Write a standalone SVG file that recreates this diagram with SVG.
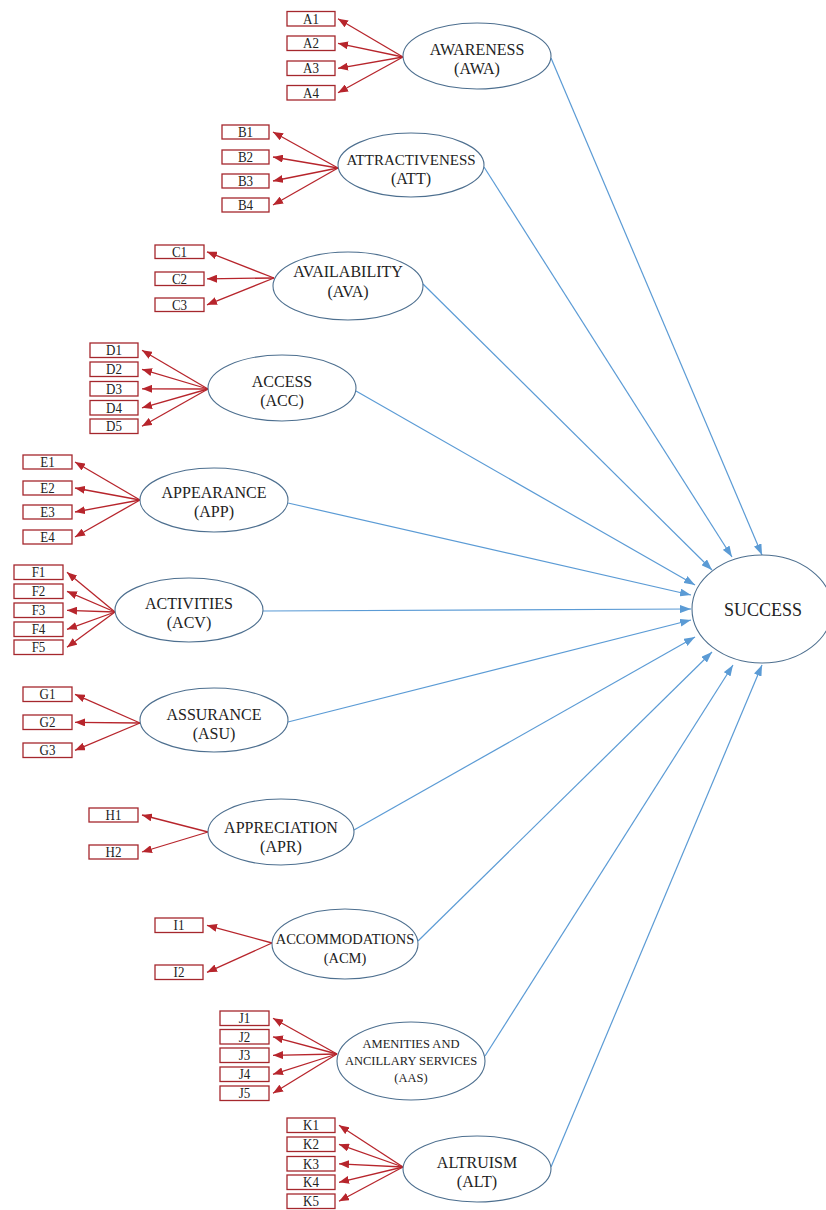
<svg xmlns="http://www.w3.org/2000/svg" width="826" height="1210" viewBox="0 0 826 1210">
<style>
.bg{fill:#ffffff}
.item rect{fill:#ffffff;stroke:#a5272d;stroke-width:1.3}
.item text{font-family:"Liberation Serif","Times New Roman",serif;font-size:13px;fill:#222;text-anchor:middle}
.factor ellipse{fill:#ffffff;stroke:#4d6f8f;stroke-width:1.1}
.factor text{font-family:"Liberation Serif","Times New Roman",serif;font-size:16px;fill:#222;text-anchor:middle}
.red{stroke:#b7252c;stroke-width:1.3;fill:none;marker-end:url(#ra)}
.blue{stroke:#5b9bd5;stroke-width:1.2;fill:none;marker-end:url(#ba)}
</style>
<defs>
<marker id="ra" viewBox="0 0 10 8" refX="10" refY="4" markerWidth="10" markerHeight="8" markerUnits="userSpaceOnUse" orient="auto"><path d="M0,0 L10,4 L0,8 z" fill="#b7252c"/></marker>
<marker id="ba" viewBox="0 0 11 8" refX="11" refY="4" markerWidth="11" markerHeight="8" markerUnits="userSpaceOnUse" orient="auto"><path d="M0,0 L11,4 L0,8 z" fill="#5b9bd5"/></marker>
</defs>
<rect class="bg" x="0" y="0" width="826" height="1210"/>

<g id="connectors">
<path class="red" d="M403,57 L338,18.8"/>
<path class="red" d="M403,57 L338,43.3"/>
<path class="red" d="M403,57 L338,68.3"/>
<path class="red" d="M403,57 L338,92.8"/>

<path class="red" d="M338,168 L273,132"/>
<path class="red" d="M338,168 L273,157"/>
<path class="red" d="M338,168 L273,181"/>
<path class="red" d="M338,168 L273,205"/>

<path class="red" d="M274,278 L207,251.8"/>
<path class="red" d="M274,278 L207,278.8"/>
<path class="red" d="M274,278 L207,304.8"/>

<path class="red" d="M208,389 L142,350.3"/>
<path class="red" d="M208,389 L142,369.3"/>
<path class="red" d="M208,389 L142,388.8"/>
<path class="red" d="M208,389 L142,407.8"/>
<path class="red" d="M208,389 L142,426.3"/>

<path class="red" d="M140,500 L75,462"/>
<path class="red" d="M140,500 L75,488"/>
<path class="red" d="M140,500 L75,512"/>
<path class="red" d="M140,500 L75,537"/>

<path class="red" d="M115,612 L67,572.3"/>
<path class="red" d="M115,612 L67,591.3"/>
<path class="red" d="M115,612 L67,610.3"/>
<path class="red" d="M115,612 L67,629.3"/>
<path class="red" d="M115,612 L67,647.3"/>

<path class="red" d="M140,723 L75,694.3"/>
<path class="red" d="M140,723 L75,722.3"/>
<path class="red" d="M140,723 L75,750.3"/>

<path class="red" d="M208,832 L142,815"/>
<path class="red" d="M208,832 L142,852"/>

<path class="red" d="M272,943 L207,925.3"/>
<path class="red" d="M272,943 L207,972.3"/>

<path class="red" d="M337,1054 L273,1018.3"/>
<path class="red" d="M337,1054 L273,1036.8"/>
<path class="red" d="M337,1054 L273,1055.3"/>
<path class="red" d="M337,1054 L273,1074.3"/>
<path class="red" d="M337,1054 L273,1093.3"/>

<path class="red" d="M403,1167 L339,1125.3"/>
<path class="red" d="M403,1167 L339,1144.3"/>
<path class="red" d="M403,1167 L339,1163.8"/>
<path class="red" d="M403,1167 L339,1182.3"/>
<path class="red" d="M403,1167 L339,1201.3"/>

<path class="blue" d="M551,58 L762,555"/>
<path class="blue" d="M484,167 L732,557"/>
<path class="blue" d="M423,284 L712,570"/>
<path class="blue" d="M356,391 L695,585"/>
<path class="blue" d="M288,503 L691,595"/>
<path class="blue" d="M263,611 L691,609"/>
<path class="blue" d="M288,722 L691,620"/>
<path class="blue" d="M354,830 L695,637"/>
<path class="blue" d="M418,941 L712,652"/>
<path class="blue" d="M485,1056 L733,665"/>
<path class="blue" d="M551,1167 L762,665"/>
</g>

<g id="A1" class="item"><rect x="287" y="11.5" width="48" height="14.5"/><text transform="translate(311,23.8) scale(1,1.2)">A1</text></g>
<g id="A2" class="item"><rect x="287" y="36" width="48" height="14.5"/><text transform="translate(311,48.3) scale(1,1.2)">A2</text></g>
<g id="A3" class="item"><rect x="287" y="61" width="48" height="14.5"/><text transform="translate(311,73.3) scale(1,1.2)">A3</text></g>
<g id="A4" class="item"><rect x="287" y="85.5" width="48" height="14.5"/><text transform="translate(311,97.8) scale(1,1.2)">A4</text></g>
<g id="AWA" class="factor"><ellipse cx="477" cy="56" rx="74" ry="33"/><text x="477" y="55">AWARENESS</text><text x="477" y="74">(AWA)</text></g>

<g id="B1" class="item"><rect x="222" y="125" width="47" height="14"/><text transform="translate(245.5,137) scale(1,1.2)">B1</text></g>
<g id="B2" class="item"><rect x="222" y="150" width="47" height="14"/><text transform="translate(245.5,162) scale(1,1.2)">B2</text></g>
<g id="B3" class="item"><rect x="222" y="174" width="47" height="14"/><text transform="translate(245.5,186) scale(1,1.2)">B3</text></g>
<g id="B4" class="item"><rect x="222" y="198" width="47" height="14"/><text transform="translate(245.5,210) scale(1,1.2)">B4</text></g>
<g id="ATT" class="factor"><ellipse cx="411" cy="165" rx="73" ry="32"/><text x="411" y="165" style="font-size:15px">ATTRACTIVENESS</text><text x="411" y="184">(ATT)</text></g>

<g id="C1" class="item"><rect x="155" y="245" width="49" height="13.5"/><text transform="translate(179.5,256.8) scale(1,1.2)">C1</text></g>
<g id="C2" class="item"><rect x="155" y="272" width="49" height="13.5"/><text transform="translate(179.5,283.8) scale(1,1.2)">C2</text></g>
<g id="C3" class="item"><rect x="155" y="298" width="49" height="13.5"/><text transform="translate(179.5,309.8) scale(1,1.2)">C3</text></g>
<g id="AVA" class="factor"><ellipse cx="348" cy="286" rx="75" ry="34"/><text x="348" y="277">AVAILABILITY</text><text x="348" y="297">(AVA)</text></g>

<g id="D1" class="item"><rect x="90" y="343" width="48" height="14.5"/><text transform="translate(114,355.3) scale(1,1.2)">D1</text></g>
<g id="D2" class="item"><rect x="90" y="362" width="48" height="14.5"/><text transform="translate(114,374.3) scale(1,1.2)">D2</text></g>
<g id="D3" class="item"><rect x="90" y="381.5" width="48" height="14.5"/><text transform="translate(114,393.8) scale(1,1.2)">D3</text></g>
<g id="D4" class="item"><rect x="90" y="400.5" width="48" height="14.5"/><text transform="translate(114,412.8) scale(1,1.2)">D4</text></g>
<g id="D5" class="item"><rect x="90" y="419" width="48" height="14.5"/><text transform="translate(114,431.3) scale(1,1.2)">D5</text></g>
<g id="ACC" class="factor"><ellipse cx="282" cy="388" rx="74" ry="33"/><text x="282" y="387">ACCESS</text><text x="282" y="406">(ACC)</text></g>

<g id="E1" class="item"><rect x="23" y="455" width="49" height="14"/><text transform="translate(47.5,467) scale(1,1.2)">E1</text></g>
<g id="E2" class="item"><rect x="23" y="481" width="49" height="14"/><text transform="translate(47.5,493) scale(1,1.2)">E2</text></g>
<g id="E3" class="item"><rect x="23" y="505" width="49" height="14"/><text transform="translate(47.5,517) scale(1,1.2)">E3</text></g>
<g id="E4" class="item"><rect x="23" y="530" width="49" height="14"/><text transform="translate(47.5,542) scale(1,1.2)">E4</text></g>
<g id="APP" class="factor"><ellipse cx="214" cy="500" rx="74" ry="32"/><text x="214" y="498">APPEARANCE</text><text x="214" y="517">(APP)</text></g>

<g id="F1" class="item"><rect x="14" y="565" width="49" height="14.5"/><text transform="translate(38.5,577.3) scale(1,1.2)">F1</text></g>
<g id="F2" class="item"><rect x="14" y="584" width="49" height="14.5"/><text transform="translate(38.5,596.3) scale(1,1.2)">F2</text></g>
<g id="F3" class="item"><rect x="14" y="603" width="49" height="14.5"/><text transform="translate(38.5,615.3) scale(1,1.2)">F3</text></g>
<g id="F4" class="item"><rect x="14" y="622" width="49" height="14.5"/><text transform="translate(38.5,634.3) scale(1,1.2)">F4</text></g>
<g id="F5" class="item"><rect x="14" y="640" width="49" height="14.5"/><text transform="translate(38.5,652.3) scale(1,1.2)">F5</text></g>
<g id="ACV" class="factor"><ellipse cx="189" cy="610" rx="74" ry="32"/><text x="189" y="609">ACTIVITIES</text><text x="189" y="628">(ACV)</text></g>

<g id="G1" class="item"><rect x="23" y="687" width="49" height="14.5"/><text transform="translate(47.5,699.3) scale(1,1.2)">G1</text></g>
<g id="G2" class="item"><rect x="23" y="715" width="49" height="14.5"/><text transform="translate(47.5,727.3) scale(1,1.2)">G2</text></g>
<g id="G3" class="item"><rect x="23" y="743" width="49" height="14.5"/><text transform="translate(47.5,755.3) scale(1,1.2)">G3</text></g>
<g id="ASU" class="factor"><ellipse cx="214" cy="720" rx="74" ry="32"/><text x="214" y="720">ASSURANCE</text><text x="214" y="739">(ASU)</text></g>

<g id="H1" class="item"><rect x="89" y="808" width="49" height="14"/><text transform="translate(113.5,820) scale(1,1.2)">H1</text></g>
<g id="H2" class="item"><rect x="89" y="845" width="49" height="14"/><text transform="translate(113.5,857) scale(1,1.2)">H2</text></g>
<g id="APR" class="factor"><ellipse cx="281" cy="832" rx="73" ry="33"/><text x="281" y="833">APPRECIATION</text><text x="281" y="852">(APR)</text></g>

<g id="I1" class="item"><rect x="155" y="918" width="48" height="14.5"/><text transform="translate(179,930.3) scale(1,1.2)">I1</text></g>
<g id="I2" class="item"><rect x="155" y="965" width="48" height="14.5"/><text transform="translate(179,977.3) scale(1,1.2)">I2</text></g>
<g id="ACM" class="factor"><ellipse cx="345" cy="944" rx="73" ry="35"/><text x="345" y="944" style="font-size:14.5px">ACCOMMODATIONS</text><text x="345" y="963" style="font-size:14.5px">(ACM)</text></g>

<g id="J1" class="item"><rect x="220" y="1011" width="49" height="14.5"/><text transform="translate(244.5,1023.3) scale(1,1.2)">J1</text></g>
<g id="J2" class="item"><rect x="220" y="1029.5" width="49" height="14.5"/><text transform="translate(244.5,1041.8) scale(1,1.2)">J2</text></g>
<g id="J3" class="item"><rect x="220" y="1048" width="49" height="14.5"/><text transform="translate(244.5,1060.3) scale(1,1.2)">J3</text></g>
<g id="J4" class="item"><rect x="220" y="1067" width="49" height="14.5"/><text transform="translate(244.5,1079.3) scale(1,1.2)">J4</text></g>
<g id="J5" class="item"><rect x="220" y="1086" width="49" height="14.5"/><text transform="translate(244.5,1098.3) scale(1,1.2)">J5</text></g>
<g id="AAS" class="factor"><ellipse cx="411" cy="1061" rx="74" ry="39"/><text x="411" y="1048" style="font-size:12.5px">AMENITIES AND</text><text x="411" y="1065" style="font-size:12.5px">ANCILLARY SERVICES</text><text x="411" y="1082" style="font-size:12.5px">(AAS)</text></g>

<g id="K1" class="item"><rect x="287" y="1118" width="48" height="14.5"/><text transform="translate(311,1130.3) scale(1,1.2)">K1</text></g>
<g id="K2" class="item"><rect x="287" y="1137" width="48" height="14.5"/><text transform="translate(311,1149.3) scale(1,1.2)">K2</text></g>
<g id="K3" class="item"><rect x="287" y="1156.5" width="48" height="14.5"/><text transform="translate(311,1168.8) scale(1,1.2)">K3</text></g>
<g id="K4" class="item"><rect x="287" y="1175" width="48" height="14.5"/><text transform="translate(311,1187.3) scale(1,1.2)">K4</text></g>
<g id="K5" class="item"><rect x="287" y="1194" width="48" height="14.5"/><text transform="translate(311,1206.3) scale(1,1.2)">K5</text></g>
<g id="ALT" class="factor"><ellipse cx="477" cy="1169" rx="74" ry="33"/><text x="477" y="1168">ALTRUISM</text><text x="477" y="1187">(ALT)</text></g>

<g id="SUCCESS" class="factor"><ellipse cx="762" cy="609" rx="70" ry="54"/><text x="763" y="616" style="font-size:18px">SUCCESS</text></g>
</svg>
